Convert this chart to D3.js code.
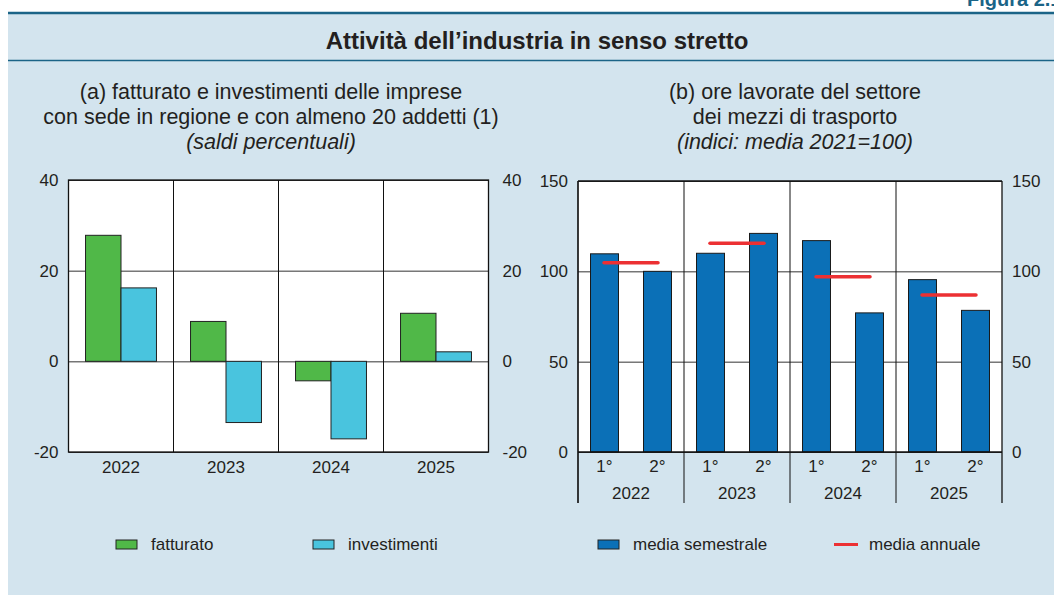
<!DOCTYPE html>
<html><head><meta charset="utf-8">
<style>
  body { margin: 0; background: #ffffff; font-family: "Liberation Sans", Arial, Helvetica, sans-serif; }
  svg text { fill: #231f20; }
</style>
</head>
<body>
<svg id="chart"></svg>
<script src="https://d3js.org/d3.v7.min.js"></script>
<script>
// data
const years = ["2022", "2023", "2024", "2025"];
const seriesA = ["fatturato", "investimenti"];
const fatturato = [27.8, 8.8, -4.3, 10.6];
const investimenti = [16.2, -13.5, -17.1, 2.1];
const ticksA = [-20, 0, 20, 40];

const semesters = ["1°", "2°"];
const orePrimo = [109.7, 110, 117, 95.4];
const oreSecondo = [100, 121, 77, 78.4];
const mediaAnnuale = [104.8, 115.5, 97, 86.9];
const ticksB = [0, 50, 100, 150];

const colors = { fatturato: "#50b848", investimenti: "#49c4de", semestre: "#0b70b7", annuale: "#ec3033" };
const panelBg = "#d3e4ee", rule = "#1b6487", ink = "#231f20";

let width = 1054, height = 595;
let svg = d3.select("#chart").attr("width", width).attr("height", height);

// header and panel
svg.append("text").attr("x", 967).attr("y", 6).attr("font-size", 20).attr("font-weight", "bold")
   .style("fill", rule).text("Figura 2.1");
svg.append("rect").attr("x", 8).attr("y", 13).attr("width", width).attr("height", height).attr("fill", panelBg);
svg.append("line").attr("x1", 8).attr("x2", width).attr("y1", 13).attr("y2", 13).attr("stroke", rule).attr("stroke-width", 2.5);
svg.append("line").attr("x1", 8).attr("x2", width).attr("y1", 60.5).attr("y2", 60.5).attr("stroke", rule).attr("stroke-width", 1.5);
svg.append("text").attr("x", 537).attr("y", 49).attr("text-anchor", "middle")
   .attr("font-size", 24).attr("font-weight", "bold").text("Attività dell’industria in senso stretto");

function subtitle(cx, lines) {
  lines.forEach((l, i) => {
    svg.append("text").attr("x", cx).attr("y", 99 + i * 25).attr("text-anchor", "middle")
       .attr("font-size", 21.5).attr("font-style", i == 2 ? "italic" : "normal").text(l);
  });
}
subtitle(271, ["(a) fatturato e investimenti delle imprese", "con sede in regione e con almeno 20 addetti (1)", "(saldi percentuali)"]);
subtitle(795, ["(b) ore lavorate del settore", "dei mezzi di trasporto", "(indici: media 2021=100)"]);

function styleAxis(g) {
  g.select(".domain").remove();
  g.selectAll("text").attr("font-size", 17).attr("font-family", "Liberation Sans, Arial, sans-serif").style("fill", ink);
}
let plain = d => String(d);

// ---------- panel (a) ----------
let a = { left: 68.5, right: 488.5, top: 180, bottom: 452 };
let xA = d3.scaleBand().domain(years).range([a.left, a.right]);
let xA2 = d3.scaleBand().domain(seriesA).range([0, xA.bandwidth()]).paddingInner(0).paddingOuter(0.48);
let yA = d3.scaleLinear().domain([-20, 40]).range([a.bottom, a.top]);

let gA = svg.append("g");
gA.append("rect").attr("x", a.left).attr("y", a.top).attr("width", a.right - a.left).attr("height", a.bottom - a.top).attr("fill", "#fff");
gA.append("g").attr("transform", `translate(${a.left},0)`)
  .call(d3.axisLeft(yA).tickValues(ticksA).tickFormat(plain).tickSize(-(a.right - a.left)).tickPadding(10))
  .call(styleAxis)
  .call(g => g.selectAll("line").attr("stroke", "#333").attr("stroke-width", 1));
gA.append("g").attr("transform", `translate(${a.right},0)`)
  .call(d3.axisRight(yA).tickValues(ticksA).tickFormat(plain).tickSize(0).tickPadding(14))
  .call(styleAxis);
gA.selectAll(".sep").data(years.slice(1)).enter().append("line")
  .attr("x1", d => xA(d)).attr("x2", d => xA(d)).attr("y1", a.top).attr("y2", a.bottom)
  .attr("stroke", "#111").attr("stroke-width", 1);

let rowsA = years.map((y, i) => ({ year: y, fatturato: fatturato[i], investimenti: investimenti[i] }));
seriesA.forEach(s => {
  gA.selectAll(".bar-" + s).data(rowsA).enter().append("rect")
    .attr("x", d => xA(d.year) + xA2(s))
    .attr("width", xA2.bandwidth())
    .attr("y", d => yA(Math.max(0, d[s])))
    .attr("height", d => Math.abs(yA(d[s]) - yA(0)))
    .attr("fill", colors[s]).attr("stroke", "#222").attr("stroke-width", 1);
});
gA.append("rect").attr("x", a.left).attr("y", a.top).attr("width", a.right - a.left).attr("height", a.bottom - a.top)
  .attr("fill", "none").attr("stroke", "#111").attr("stroke-width", 1.3);
gA.append("g").attr("transform", `translate(0,${a.bottom})`)
  .call(d3.axisBottom(xA).tickSize(0).tickPadding(9))
  .call(styleAxis);

// ---------- panel (b) ----------
let b = { left: 578, right: 1002, top: 181, bottom: 452 };
let xB = d3.scaleBand().domain(years).range([b.left, b.right]);
let xB2 = d3.scaleBand().domain(semesters).range([0, xB.bandwidth()]).paddingInner(0.472).paddingOuter(0.236);
let yB = d3.scaleLinear().domain([0, 150]).range([b.bottom, b.top]);

let gB = svg.append("g");
gB.append("rect").attr("x", b.left).attr("y", b.top).attr("width", b.right - b.left).attr("height", b.bottom - b.top).attr("fill", "#fff");
gB.append("g").attr("transform", `translate(${b.left},0)`)
  .call(d3.axisLeft(yB).tickValues(ticksB).tickFormat(plain).tickSize(-(b.right - b.left)).tickPadding(10))
  .call(styleAxis)
  .call(g => g.selectAll("line").attr("stroke", "#333").attr("stroke-width", 1));
gB.append("g").attr("transform", `translate(${b.right},0)`)
  .call(d3.axisRight(yB).tickValues(ticksB).tickFormat(plain).tickSize(0).tickPadding(10))
  .call(styleAxis);
gB.selectAll(".sep").data(years).enter().append("line")
  .attr("x1", d => xB(d)).attr("x2", d => xB(d)).attr("y1", b.top).attr("y2", 503)
  .attr("stroke", "#111").attr("stroke-width", 1);
gB.append("line").attr("x1", b.right).attr("x2", b.right).attr("y1", b.top).attr("y2", 503)
  .attr("stroke", "#111").attr("stroke-width", 1.3);

let rowsB = [];
years.forEach((y, i) => {
  rowsB.push({ year: y, sem: semesters[0], v: orePrimo[i] });
  rowsB.push({ year: y, sem: semesters[1], v: oreSecondo[i] });
});
gB.selectAll(".bar").data(rowsB).enter().append("rect")
  .attr("x", d => xB(d.year) + xB2(d.sem))
  .attr("width", xB2.bandwidth())
  .attr("y", d => yB(d.v))
  .attr("height", d => yB(0) - yB(d.v))
  .attr("fill", colors.semestre).attr("stroke", "#1a1a1a").attr("stroke-width", 1);

gB.selectAll(".mean").data(years).enter().append("line")
  .attr("x1", (d, i) => xB(d) + xB.bandwidth() / 2 - 27)
  .attr("x2", (d, i) => xB(d) + xB.bandwidth() / 2 + 27)
  .attr("y1", (d, i) => yB(mediaAnnuale[i]))
  .attr("y2", (d, i) => yB(mediaAnnuale[i]))
  .attr("stroke", colors.annuale).attr("stroke-width", 3.5).attr("stroke-linecap", "round");

gB.append("line").attr("x1", b.left).attr("x2", b.right).attr("y1", b.top).attr("y2", b.top).attr("stroke", "#111").attr("stroke-width", 1.3);
gB.append("line").attr("x1", b.left).attr("x2", b.right).attr("y1", b.bottom).attr("y2", b.bottom).attr("stroke", "#111").attr("stroke-width", 1.3);
gB.append("line").attr("x1", b.left).attr("x2", b.left).attr("y1", b.top).attr("y2", 503).attr("stroke", "#111").attr("stroke-width", 1.3);

// semester labels and year labels
years.forEach(y => {
  gB.selectAll(null).data(semesters).enter().append("text")
    .attr("x", s => xB(y) + xB2(s) + xB2.bandwidth() / 2).attr("y", 472)
    .attr("text-anchor", "middle").attr("font-size", 17).text(s => s);
});
gB.append("g").attr("transform", `translate(0,${500 - 13})`)
  .call(d3.axisBottom(xB).tickSize(0).tickPadding(0))
  .call(styleAxis)
  .call(g => g.selectAll("text").attr("dy", "0.71em").attr("y", 0));

// ---------- legend ----------
let legend = [
  { x: 116, label: "fatturato", kind: "box", color: colors.fatturato },
  { x: 313, label: "investimenti", kind: "box", color: colors.investimenti },
  { x: 598, label: "media semestrale", kind: "box", color: colors.semestre },
  { x: 834, label: "media annuale", kind: "line", color: colors.annuale }
];
let lg = svg.append("g");
legend.forEach(d => {
  if (d.kind == "box") {
    lg.append("rect").attr("x", d.x).attr("y", 540).attr("width", 21).attr("height", 9)
      .attr("fill", d.color).attr("stroke", "#222").attr("stroke-width", 1);
    lg.append("text").attr("x", d.x + 35).attr("y", 550).attr("font-size", 17).text(d.label);
  } else {
    lg.append("line").attr("x1", d.x).attr("x2", d.x + 24).attr("y1", 544.5).attr("y2", 544.5)
      .attr("stroke", d.color).attr("stroke-width", 3);
    lg.append("text").attr("x", d.x + 35).attr("y", 550).attr("font-size", 17).text(d.label);
  }
});
</script>
</body></html>
